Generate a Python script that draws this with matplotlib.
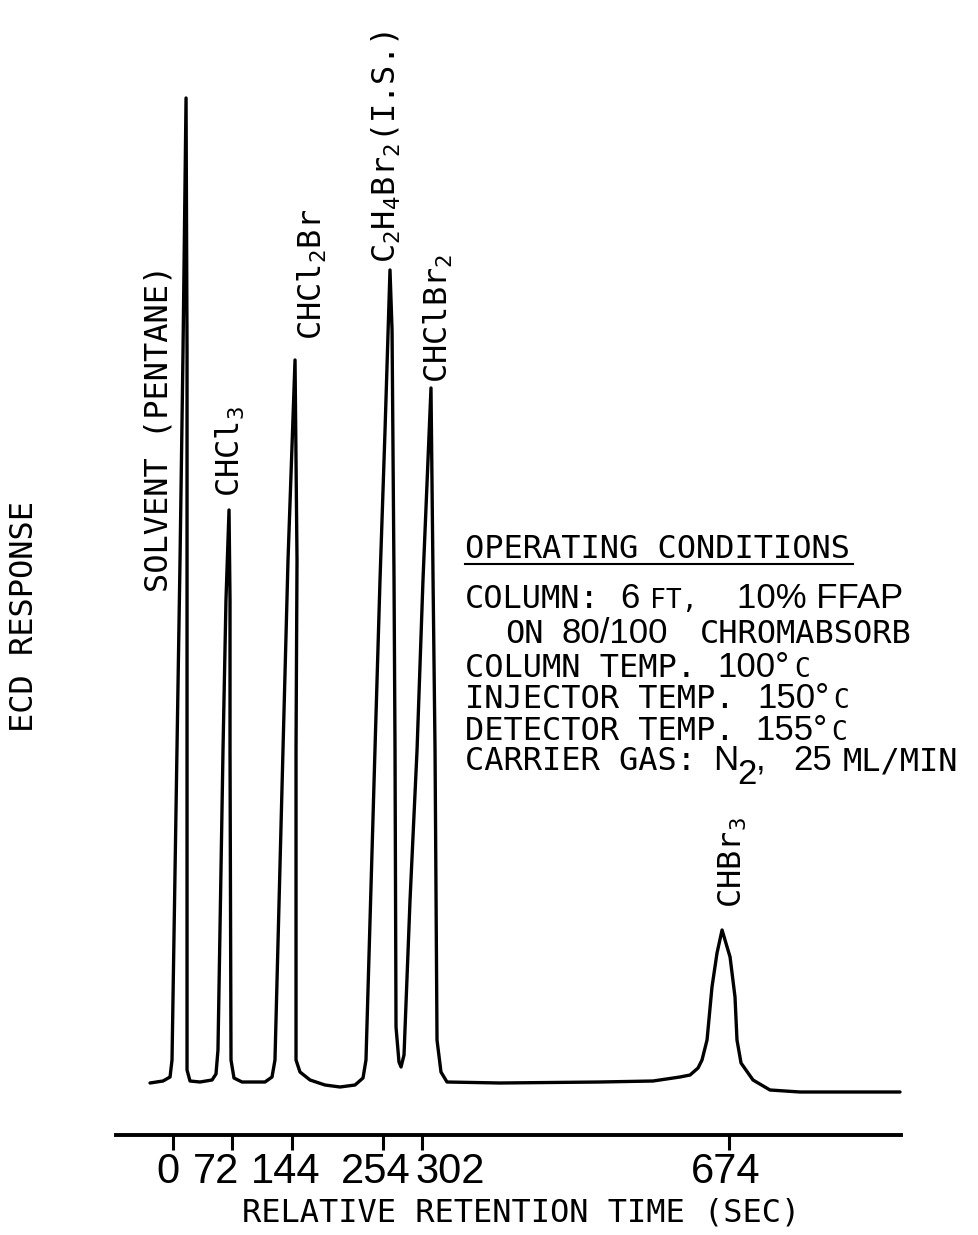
import matplotlib
matplotlib.use("Agg")
import matplotlib.pyplot as plt
from matplotlib.lines import Line2D
from matplotlib.transforms import ScaledTranslation

# chromatogram trace: retention time (s) and ECD response (a.u.)
time_s = [-27.9, -12.1, -3.6, -1.2, 4.8, 8.5, 12.1, 15.8, 17.0, 17.0, 17.0, 20.6, 32.7, 47.3,
          52.1, 54.5, 60.6, 64.2, 67.9, 69.1, 69.1, 70.3, 73.9, 83.6, 111.5,
          120.0, 123.6, 133.3, 139.4, 147.9, 150.3, 149.1, 149.1, 153.9, 166.1, 184.2, 202.4, 220.6,
          230.3, 233.9, 244.8, 250.9, 257.0, 263.0, 265.5, 267.9, 269.1, 270.3, 273.9, 276.4,
          280.0, 287.3, 295.8, 303.0, 312.7, 315.2, 317.6, 320.0, 324.8, 332.1,
          396.4, 517.6, 581.8, 614.5, 626.7, 636.4, 641.2, 647.3, 653.3, 659.4, 665.5,
          675.2, 681.2, 683.6, 688.5, 703.0, 723.6, 760.0, 881.2]
response = [0.2, 0.4, 0.8, 2.5, 33.5, 52.5, 73.2, 98.7, 73.2, 33.5, 1.5, 0.4, 0.3, 0.5,
            1.1, 3.5, 33.5, 48.5, 57.5, 48.5, 33.5, 2.5, 0.7, 0.3, 0.3,
            0.8, 2.5, 33.5, 52.5, 72.5, 52.5, 33.5, 2.5, 1.3, 0.5, 0.0, -0.2, 0.0,
            0.7, 2.5, 33.5, 50.5, 65.5, 81.5, 75.5, 50.5, 33.5, 5.8, 2.3, 1.8,
            3.0, 18.5, 33.5, 50.5, 69.7, 50.5, 33.5, 4.5, 1.3, 0.3,
            0.2, 0.3, 0.4, 0.8, 1.0, 1.7, 2.5, 4.5, 9.8, 13.2, 15.5,
            12.8, 8.8, 4.5, 2.2, 0.5, -0.5, -0.7, -0.7]

peak_labels = ['SOLVENT (PENTANE)', r'CHCl$_3$', r'CHCl$_2$Br',
               r'C$_2$H$_4$Br$_2$(I.S.)', r'CHClBr$_2$', r'CHBr$_3$']
tick_values = [0, 72, 144, 254, 302, 674]
tick_labels = ['0', '72', '144', '254', '302', '674']

# operating conditions block: (x px, baseline px, text, style)
conditions = [
    (465, 558, 'OPERATING CONDITIONS', 'mono'),
    (465, 608, 'COLUMN:', 'mono'), (620, 608, '6', 'big'), (650, 608, 'FT,', 'small'),
    (737, 608, '10% FFAP', 'big'),
    (505, 643, 'ON', 'mono'), (562, 643, '80/100', 'big'), (700, 643, 'CHROMABSORB', 'mono'),
    (465, 677, 'COLUMN TEMP.', 'mono'), (717, 677, '100°', 'big'), (794, 677, 'C', 'small'),
    (465, 708, 'INJECTOR TEMP.', 'mono'), (757, 708, '150°', 'big'), (833, 708, 'C', 'small'),
    (465, 740, 'DETECTOR TEMP.', 'mono'), (755, 740, '155°', 'big'), (831, 740, 'C', 'small'),
    (465, 770, 'CARRIER GAS:', 'mono'), (713, 770, 'N', 'big'), (737, 784, '2', 'big'),
    (756, 770, ',', 'big'), (793, 770, '25', 'big'), (843, 770, 'ML/MIN', 'mono'),
]

W, H = 979, 1235
MONO = 'DejaVu Sans Mono'
SANS = 'Liberation Sans'
styles = {'mono': dict(family=MONO, size=23),
          'small': dict(family=MONO, size=19),
          'big': dict(family=SANS, size=25)}

plt.rcParams['mathtext.fontset'] = 'custom'
plt.rcParams['mathtext.rm'] = MONO
plt.rcParams['mathtext.it'] = MONO

fig = plt.figure(figsize=(W / 100, H / 100), dpi=100)
ax = fig.add_axes([116 / W, 100 / H, 785 / W, 1135 / H])

ax.plot(time_s, response, color='black', lw=2.4, solid_joinstyle='round',
        solid_capstyle='round', clip_on=False)

# peak labels (x centre in s, bottom in response units)
label_pos = [(-17.0, 49.3), (69.1, 58.8), (168.5, 74.5), (258.2, 82.2), (321.2, 70.2), (678.8, 17.7)]
for text, (x, y) in zip(peak_labels, label_pos):
    ax.text(x, y, text, rotation=90, ha='center', va='bottom', family=MONO, fontsize=23)

ax.set_xlim(-69.1, 882.4)
ax.set_ylim(-5, 108.5)
for side in ['top', 'left', 'right']:
    ax.spines[side].set_visible(False)
ax.spines['bottom'].set_linewidth(2.8)
ax.set_yticks([])
ax.set_xticks(tick_values)
ax.set_xticklabels(tick_labels, family=SANS, fontsize=30)
ax.tick_params(axis='x', direction='out', length=11, width=2.2, pad=1)

# hand lettered tick labels sit a little off their ticks
label_dx = [-5, -16, -6, -7, 28, -3]
for lbl, dx in zip(ax.get_xticklabels(), label_dx):
    lbl.set_transform(lbl.get_transform() + ScaledTranslation(dx / 100, 0, fig.dpi_scale_trans))

ax.set_xlabel('RELATIVE RETENTION TIME (SEC)', family=MONO, fontsize=23)
ax.xaxis.set_label_coords(0.516, -0.0555)

fig.text(25 / W, 1 - 616 / H, 'ECD RESPONSE', rotation=90, ha='center', va='center',
         family=MONO, fontsize=23)

for x, y, text, st in conditions:
    fig.text(x / W, 1 - y / H, text, ha='left', va='baseline', **styles[st])
fig.add_artist(Line2D([465 / W, 853 / W], [1 - 564 / H, 1 - 564 / H], color='black', lw=1.5))

fig.savefig('out.png', dpi=100)
